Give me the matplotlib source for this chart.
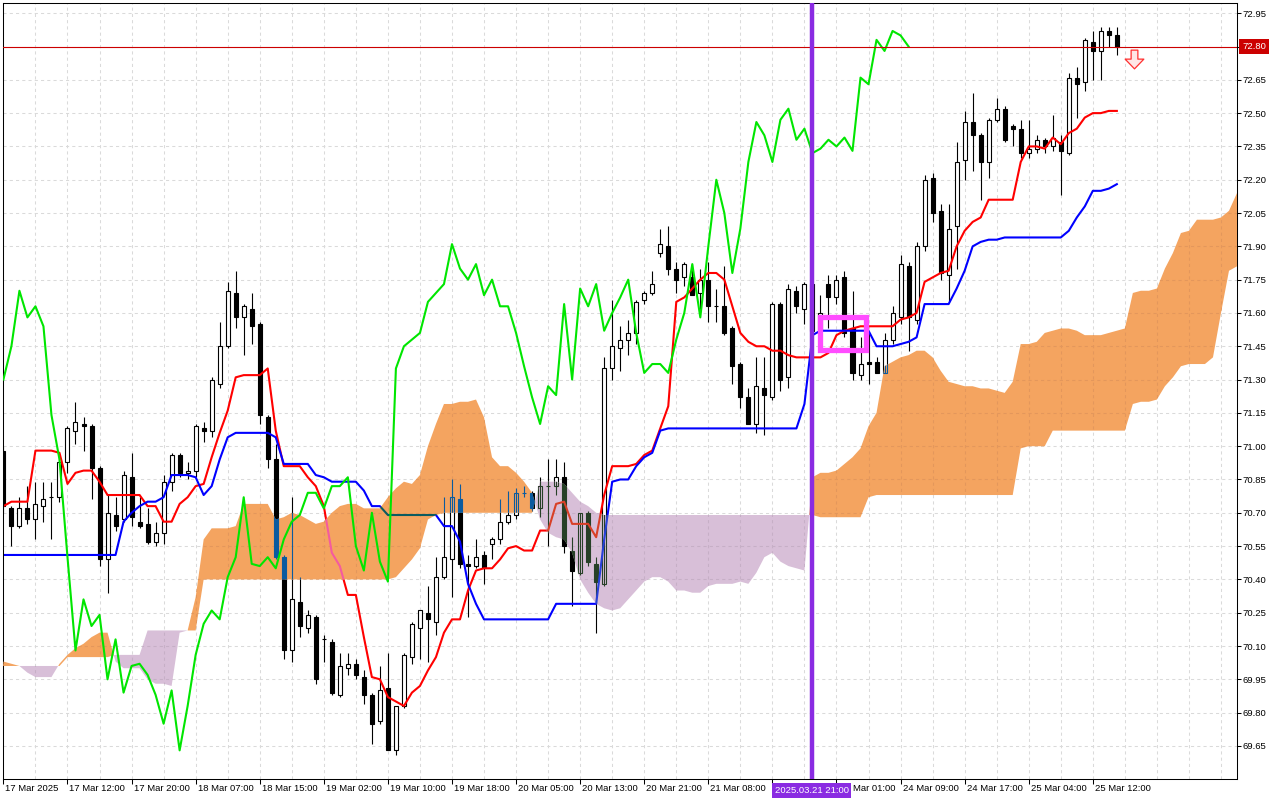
import numpy as np
import matplotlib
matplotlib.use("Agg")
import matplotlib.pyplot as plt
from matplotlib.path import Path
from matplotlib.patches import Rectangle
import matplotlib.transforms as mtransforms

plt.rcParams['font.family'] = ['Liberation Sans', 'DejaVu Sans']

# ---------------- data (hourly candles, bar index 0..139) ----------------
opens = [70.98, 70.72, 70.64, 70.72, 70.67, 70.73, 70.77, 70.77, 70.93, 71.07,
         71.10, 71.09, 70.90, 70.49, 70.69, 70.67, 70.86, 70.66, 70.65, 70.57,
         70.61, 70.84, 70.96, 70.88, 70.89, 71.08, 71.07, 71.28, 71.45, 71.69,
         71.58, 71.62, 71.55, 71.13, 70.94, 70.50, 70.08, 70.30, 70.18, 70.23,
         70.13, 70.12, 69.88, 70.00, 70.02, 69.96, 69.88, 69.76, 69.91, 69.63,
         69.83, 70.05, 70.18, 70.25, 70.21, 70.41, 70.49, 70.76, 70.47, 70.46,
         70.51, 70.56, 70.58, 70.66, 70.69, 70.79, 70.79, 70.72, 70.82, 70.82,
         70.86, 70.53, 70.43, 70.70, 70.47, 70.38, 71.35, 71.44, 71.48, 71.51,
         71.66, 71.69, 71.87, 71.90, 71.80, 71.76, 71.76, 71.69, 71.75, 71.63,
         71.63, 71.53, 71.37, 71.22, 71.10, 71.26, 71.22, 71.64, 71.31, 71.70,
         71.62, 71.73, 71.52, 71.73, 71.67, 71.76, 71.53, 71.32, 71.38, 71.38,
         71.33, 71.48, 71.58, 71.81, 71.57, 71.90, 72.21, 72.06, 71.77, 71.99,
         72.29, 72.46, 72.40, 72.28, 72.47, 72.52, 72.44, 72.43, 72.32, 72.34,
         72.38, 72.35, 72.37, 72.32, 72.66, 72.64, 72.82, 72.78, 72.87, 72.85]
highs = [71.00, 70.73, 70.77, 70.82, 70.84, 70.84, 70.84, 70.95, 71.09, 71.20,
         71.13, 71.10, 70.91, 70.78, 70.77, 70.89, 70.97, 70.77, 70.72, 70.66,
         70.87, 70.97, 70.97, 70.93, 71.10, 71.11, 71.31, 71.56, 71.74, 71.79,
         71.64, 71.69, 71.56, 71.14, 71.01, 70.51, 70.77, 70.41, 70.26, 70.24,
         70.15, 70.13, 70.07, 70.07, 70.04, 69.99, 69.89, 70.01, 70.07, 69.83,
         70.07, 70.21, 70.26, 70.37, 70.50, 70.77, 70.85, 70.83, 70.51, 70.58,
         70.53, 70.59, 70.76, 70.80, 70.81, 70.82, 70.80, 70.86, 70.94, 70.94,
         70.93, 70.59, 70.70, 70.71, 70.50, 71.40, 71.66, 71.54, 71.57, 71.66,
         71.70, 71.79, 71.98, 71.99, 71.83, 71.83, 71.82, 71.80, 71.83, 71.71,
         71.81, 71.54, 71.38, 71.26, 71.40, 71.40, 71.65, 71.65, 71.73, 71.72,
         71.74, 71.75, 71.68, 71.77, 71.77, 71.79, 71.70, 71.49, 71.51, 71.40,
         71.51, 71.63, 71.86, 71.83, 71.92, 72.22, 72.23, 72.09, 72.09, 72.37,
         72.51, 72.59, 72.41, 72.48, 72.57, 72.53, 72.45, 72.47, 72.47, 72.40,
         72.39, 72.49, 72.40, 72.68, 72.71, 72.84, 72.87, 72.89, 72.89, 72.89]
lows = [70.70, 70.55, 70.63, 70.65, 70.58, 70.66, 70.58, 70.75, 70.88, 71.01,
        70.98, 70.76, 70.46, 70.34, 70.62, 70.66, 70.64, 70.63, 70.56, 70.55,
        70.56, 70.80, 70.86, 70.85, 70.86, 71.02, 71.04, 71.26, 71.44, 71.53,
        71.41, 71.46, 71.10, 70.90, 70.49, 70.04, 70.03, 70.14, 70.16, 69.93,
        70.03, 69.88, 69.87, 69.97, 69.95, 69.84, 69.66, 69.75, 69.63, 69.61,
        69.82, 70.02, 70.04, 70.03, 70.15, 70.40, 70.32, 70.45, 70.23, 70.45,
        70.38, 70.49, 70.56, 70.65, 70.67, 70.77, 70.71, 70.68, 70.55, 70.78,
        70.52, 70.28, 70.42, 70.46, 70.16, 70.37, 71.30, 71.34, 71.41, 71.46,
        71.64, 71.68, 71.85, 71.77, 71.69, 71.72, 71.68, 71.60, 71.56, 71.56,
        71.50, 71.28, 71.17, 71.10, 71.06, 71.05, 71.21, 71.25, 71.26, 71.60,
        71.55, 71.50, 71.50, 71.53, 71.64, 71.49, 71.30, 71.30, 71.28, 71.33,
        71.33, 71.46, 71.55, 71.43, 71.55, 71.88, 72.01, 71.75, 71.65, 71.80,
        72.20, 72.24, 72.11, 72.21, 72.46, 72.37, 72.35, 72.30, 72.30, 72.32,
        72.32, 72.33, 72.13, 72.31, 72.48, 72.60, 72.65, 72.65, 72.80, 72.76]
closes = [70.73, 70.64, 70.72, 70.67, 70.74, 70.76, 70.77, 70.93, 71.08, 71.11,
          71.09, 70.90, 70.49, 70.70, 70.64, 70.87, 70.68, 70.64, 70.57, 70.61,
          70.84, 70.96, 70.88, 70.89, 71.09, 71.07, 71.30, 71.45, 71.70, 71.58,
          71.63, 71.54, 71.14, 70.94, 70.50, 70.08, 70.31, 70.19, 70.24, 69.95,
          70.13, 69.89, 70.01, 70.02, 69.97, 69.88, 69.75, 69.90, 69.63, 69.83,
          70.06, 70.20, 70.26, 70.22, 70.41, 70.50, 70.77, 70.47, 70.46, 70.50,
          70.45, 70.58, 70.66, 70.69, 70.79, 70.79, 70.72, 70.82, 70.82, 70.86,
          70.55, 70.44, 70.70, 70.48, 70.39, 71.35, 71.45, 71.48, 71.51, 71.65,
          71.69, 71.73, 71.91, 71.80, 71.75, 71.82, 71.68, 71.75, 71.63, 71.63,
          71.51, 71.36, 71.22, 71.10, 71.27, 71.23, 71.64, 71.30, 71.71, 71.63,
          71.73, 71.52, 71.60, 71.67, 71.75, 71.51, 71.33, 71.37, 71.37, 71.33,
          71.48, 71.60, 71.82, 71.58, 71.90, 72.20, 72.05, 71.78, 71.98, 72.28,
          72.46, 72.40, 72.28, 72.47, 72.52, 72.38, 72.43, 72.32, 72.34, 72.38,
          72.35, 72.39, 72.33, 72.66, 72.63, 72.83, 72.78, 72.87, 72.85, 72.80]

# Ichimoku lines
tenkan = [70.73, 70.75, 70.75, 70.75, 70.98, 70.98, 70.98, 70.97, 70.83, 70.88,
          70.89, 70.89, 70.84, 70.78, 70.78, 70.78, 70.78, 70.78, 70.73, 70.73,
          70.66, 70.66, 70.74, 70.77, 70.82, 70.83, 70.95, 71.06, 71.16, 71.31,
          71.32, 71.32, 71.32, 71.35, 71.07, 70.91, 70.91, 70.91, 70.86, 70.82,
          70.73, 70.52, 70.46, 70.33, 70.33, 70.14, 69.96, 69.95, 69.87, 69.85,
          69.83, 69.89, 69.92, 69.99, 70.05, 70.16, 70.22, 70.22, 70.35, 70.44,
          70.45, 70.45, 70.49, 70.54, 70.55, 70.53, 70.53, 70.62, 70.62, 70.74,
          70.75, 70.65, 70.65, 70.65, 70.59, 70.78, 70.91, 70.91, 70.91, 70.92,
          70.96, 70.98, 71.08, 71.18, 71.65, 71.67, 71.71, 71.75, 71.78, 71.78,
          71.75, 71.63, 71.51, 71.47, 71.45, 71.45, 71.43, 71.43, 71.41, 71.40,
          71.40, 71.40, 71.40, 71.42, 71.50, 71.52, 71.53, 71.54, 71.54, 71.54,
          71.54, 71.54, 71.57, 71.58, 71.60, 71.74, 71.76, 71.78, 71.79, 71.90,
          71.97, 72.01, 72.03, 72.11, 72.11, 72.11, 72.11, 72.28, 72.35, 72.35,
          72.34, 72.39, 72.36, 72.41, 72.43, 72.48, 72.50, 72.50, 72.51, 72.51]
kijun = [70.51, 70.51, 70.51, 70.51, 70.51, 70.51, 70.51, 70.51, 70.51, 70.51,
         70.51, 70.51, 70.51, 70.51, 70.51, 70.66, 70.70, 70.73, 70.75, 70.75,
         70.77, 70.87, 70.87, 70.87, 70.86, 70.78, 70.82, 70.94, 71.04, 71.06,
         71.06, 71.06, 71.06, 71.06, 71.04, 70.92, 70.92, 70.92, 70.92, 70.87,
         70.86, 70.84, 70.84, 70.84, 70.84, 70.80, 70.73, 70.73, 70.69, 70.69,
         70.69, 70.69, 70.69, 70.69, 70.69, 70.64, 70.64, 70.57, 70.38, 70.29,
         70.22, 70.22, 70.22, 70.22, 70.22, 70.22, 70.22, 70.22, 70.22, 70.29,
         70.29, 70.29, 70.29, 70.29, 70.29, 70.58, 70.84, 70.85, 70.85, 70.91,
         70.95, 70.97, 71.07, 71.08, 71.08, 71.08, 71.08, 71.08, 71.08, 71.08,
         71.08, 71.08, 71.08, 71.08, 71.08, 71.08, 71.08, 71.08, 71.08, 71.08,
         71.19, 71.50, 71.52, 71.52, 71.52, 71.52, 71.52, 71.52, 71.52, 71.45,
         71.45, 71.45, 71.46, 71.47, 71.49, 71.64, 71.64, 71.64, 71.64, 71.71,
         71.79, 71.90, 71.92, 71.93, 71.93, 71.94, 71.94, 71.94, 71.94, 71.94,
         71.94, 71.94, 71.94, 71.97, 72.03, 72.08, 72.15, 72.15, 72.16, 72.18]
# Senkou spans (already shifted 26 bars forward), bar index 0..154
span_a = [70.03, 70.02, 70.01, 69.98, 69.96, 69.96, 69.96, 70.02, 70.06, 70.09,
          70.11, 70.14, 70.16, 70.16, 70.03, 70.00, 70.00, 70.00, 69.95, 69.93,
          69.93, 69.92, 70.16, 70.17, 70.32, 70.58, 70.63, 70.63, 70.63, 70.64,
          70.74, 70.74, 70.74, 70.74, 70.67, 70.68, 70.70, 70.69, 70.67, 70.65,
          70.66, 70.70, 70.73, 70.74, 70.74, 70.72, 70.72, 70.72, 70.77, 70.81,
          70.84, 70.83, 70.87, 71.00, 71.10, 71.19, 71.19, 71.20, 71.20, 71.21,
          71.13, 70.95, 70.91, 70.91, 70.88, 70.84, 70.79, 70.67, 70.61, 70.59,
          70.58, 70.52, 70.40, 70.34, 70.29, 70.27, 70.26, 70.27, 70.31, 70.35,
          70.39, 70.41, 70.41, 70.39, 70.35, 70.35, 70.34, 70.34, 70.37, 70.38,
          70.38, 70.38, 70.39, 70.38, 70.43, 70.50, 70.52, 70.48, 70.46, 70.45,
          70.44, 70.86, 70.88, 70.88, 70.89, 70.92, 70.95, 70.99, 71.09, 71.15,
          71.36, 71.38, 71.40, 71.41, 71.43, 71.43, 71.40, 71.34, 71.29, 71.28,
          71.27, 71.27, 71.26, 71.26, 71.25, 71.24, 71.29, 71.46, 71.46, 71.47,
          71.51, 71.52, 71.53, 71.53, 71.52, 71.50, 71.50, 71.50, 71.51, 71.52,
          71.53, 71.69, 71.70, 71.70, 71.71, 71.80, 71.87, 71.96, 71.97, 72.02,
          72.02, 72.02, 72.03, 72.06, 72.14]
span_b = [70.01, 70.01, 70.01, 70.01, 70.01, 70.01, 70.01, 70.01, 70.05, 70.05,
          70.05, 70.05, 70.05, 70.05, 70.06, 70.06, 70.06, 70.06, 70.17, 70.17,
          70.17, 70.17, 70.17, 70.17, 70.17, 70.40, 70.40, 70.40, 70.40, 70.40,
          70.40, 70.40, 70.40, 70.40, 70.40, 70.40, 70.40, 70.40, 70.40, 70.40,
          70.40, 70.40, 70.40, 70.40, 70.40, 70.40, 70.40, 70.40, 70.40, 70.41,
          70.45, 70.49, 70.54, 70.67, 70.69, 70.70, 70.70, 70.70, 70.70, 70.70,
          70.70, 70.70, 70.70, 70.70, 70.70, 70.70, 70.70, 70.84, 70.84, 70.84,
          70.83, 70.79, 70.75, 70.73, 70.70, 70.69, 70.69, 70.69, 70.69, 70.69,
          70.69, 70.69, 70.69, 70.69, 70.69, 70.69, 70.69, 70.69, 70.69, 70.69,
          70.69, 70.69, 70.69, 70.69, 70.69, 70.69, 70.69, 70.69, 70.69, 70.69,
          70.69, 70.69, 70.68, 70.68, 70.68, 70.68, 70.68, 70.68, 70.77, 70.78,
          70.78, 70.78, 70.78, 70.78, 70.78, 70.78, 70.78, 70.78, 70.78, 70.78,
          70.78, 70.78, 70.78, 70.78, 70.78, 70.78, 70.78, 70.99, 71.00, 71.00,
          71.00, 71.07, 71.07, 71.07, 71.07, 71.07, 71.07, 71.07, 71.07, 71.07,
          71.07, 71.19, 71.20, 71.20, 71.21, 71.27, 71.31, 71.36, 71.37, 71.37,
          71.37, 71.40, 71.60, 71.79, 71.81]
chikou_shift = 26

tick_labels = ["17 Mar 2025", "17 Mar 12:00", "17 Mar 20:00", "18 Mar 07:00",
               "18 Mar 15:00", "19 Mar 02:00", "19 Mar 10:00", "19 Mar 18:00",
               "20 Mar 05:00", "20 Mar 13:00", "20 Mar 21:00", "21 Mar 08:00",
               "21 Mar 16:00", "24 Mar 01:00", "24 Mar 09:00", "24 Mar 17:00",
               "25 Mar 04:00", "25 Mar 12:00"]
bars_per_tick = 8
price_ticks = [69.65, 69.80, 69.95, 70.10, 70.25, 70.40, 70.55, 70.70, 70.85,
               71.00, 71.15, 71.30, 71.45, 71.60, 71.75, 71.90, 72.05, 72.20,
               72.35, 72.50, 72.65, 72.80, 72.95]
bid_price = 72.80
cursor_bar = 101
cursor_label = "2025.03.21 21:00"

# ---------------- figure ----------------
W, H = 1280, 800
fig = plt.figure(figsize=(W / 100, H / 100), dpi=100, facecolor='white')
ax = fig.add_axes([3 / W, 21 / H, 1234 / W, 776 / H])
XMIN, XMAX = -0.05, 154.0
YMIN, YMAX = 69.501, 72.996

O = np.array(opens); Hh = np.array(highs); L = np.array(lows); C = np.array(closes)
x = np.arange(len(C))
TK = np.array(tenkan); KJ = np.array(kijun)
A = np.array(span_a); B = np.array(span_b); xa = np.arange(len(A))

# grid
gx = np.arange(0, 155, 4)
grid_kw = dict(linewidths=0.75, linestyles=(0, (3, 3)))
ax.vlines(gx, YMIN, YMAX, colors='#dadada', zorder=0.5, **grid_kw)
ax.hlines(price_ticks, XMIN, XMAX, colors='#dadada', zorder=0.5, **grid_kw)


def draw_price(z, ink, fill_up, red, blue, clip=None):
    arts = [ax.vlines(x, L, Hh, colors=ink, linewidths=0.8, zorder=z)]
    up = C >= O
    bot = np.minimum(O, C)
    hgt = np.abs(C - O)
    b1 = ax.bar(x[up], hgt[up], bottom=bot[up], width=0.5, facecolor=fill_up,
                edgecolor=ink, linewidth=0.8, zorder=z + 0.01)
    b2 = ax.bar(x[~up], hgt[~up], bottom=bot[~up], width=0.5, facecolor=ink,
                edgecolor=ink, linewidth=0.8, zorder=z + 0.01)
    arts += list(b1.patches) + list(b2.patches)
    arts += ax.plot(x, TK, color=red, lw=1.5, zorder=z + 0.02)
    arts += ax.plot(x, KJ, color=blue, lw=1.5, zorder=z + 0.02)
    if clip is not None:
        for a in arts:
            a.set_clip_path(clip, ax.transData)
    return arts


# base layer
draw_price(2, 'black', 'white', '#ff0000', '#0000ff')

# cloud
org = ax.fill_between(xa, A, B, where=A >= B, interpolate=True, facecolor='#f4a460',
                      edgecolor='none', linewidth=0, zorder=3)
ths = ax.fill_between(xa, A, B, where=A < B, interpolate=True, facecolor='#d8bfd8',
                      edgecolor='none', linewidth=0, zorder=3)
org_path = Path.make_compound_path(*org.get_paths())
ths_path = Path.make_compound_path(*ths.get_paths())

# grid + price inside the cloud (inverted look)
for pth, gcol in ((org_path, '#e3975c'), (ths_path, '#c6afc6')):
    g1 = ax.vlines(gx, YMIN, YMAX, colors=gcol, zorder=3.2, **grid_kw)
    g2 = ax.hlines(price_ticks, XMIN, XMAX, colors=gcol, zorder=3.2, **grid_kw)
    g1.set_clip_path(pth, ax.transData)
    g2.set_clip_path(pth, ax.transData)
draw_price(3.5, '#0b5b9f', 'none', '#f45b9f', '#0b5b60', clip=org_path)
draw_price(3.5, '#274027', 'none', '#d84027', '#2740d8', clip=ths_path)

# chikou span
n = len(C) - chikou_shift
ax.plot(x[:n], C[chikou_shift:], color='#00e600', lw=1.5, zorder=5)

# bid line
ax.axhline(bid_price, color='#cc0000', lw=0.8, zorder=5.5)

# cursor vertical line
ax.axvline(cursor_bar, color='#8a2be2', lw=3.2, zorder=6)

# highlight rectangle
ax.add_patch(Rectangle((101.96, 71.431), 5.78, 0.153, fill=False,
                       edgecolor='#ff4cff', linewidth=3.8, joinstyle='miter', zorder=7))

# sell arrow
arrow = Path([(-0.18, 0.5), (0.18, 0.5), (0.18, 0.02), (0.5, 0.02), (0.0, -0.5),
              (-0.5, 0.02), (-0.18, 0.02), (-0.18, 0.5)],
             [Path.MOVETO] + [Path.LINETO] * 6 + [Path.CLOSEPOLY])
ax.plot([141.2], [72.742], marker=arrow, markersize=13.5, markerfacecolor='#ffe6e6',
        markeredgecolor='#ff3030', markeredgewidth=0.9, linestyle='none', zorder=8)

# axes limits / ticks
ax.set_xlim(XMIN, XMAX)
ax.set_ylim(YMIN, YMAX)
ax.yaxis.tick_right()
ax.set_yticks(price_ticks)
ax.set_yticklabels([f"{v:.2f}" for v in price_ticks])
ax.tick_params(axis='y', direction='out', length=2.9, width=0.75, pad=1,
               labelsize=6.8, colors='black', right=True, left=False)

# the cursor date box hides the label of the tick at bar 96 and the day of
# the tick at bar 104: show only what remains visible
cursor_tick_hidden = 12
cursor_tick_partial = 13
shown = list(tick_labels)
shown[cursor_tick_hidden] = ""
shown[cursor_tick_partial] = tick_labels[cursor_tick_partial].split(" ", 1)[1]
ax.set_xticks(np.arange(len(tick_labels)) * bars_per_tick)
ax.set_xticklabels(shown, ha='left')
ax.tick_params(axis='x', direction='out', length=3.6, width=0.75, pad=0.3,
               labelsize=6.8, colors='black')
offset = mtransforms.ScaledTranslation(2 / 100, 0, fig.dpi_scale_trans)
offset_partial = mtransforms.ScaledTranslation(17 / 100, 0, fig.dpi_scale_trans)
for i, lbl in enumerate(ax.get_xticklabels()):
    off = offset_partial if i == cursor_tick_partial else offset
    lbl.set_transform(lbl.get_transform() + off)
for s in ax.spines.values():
    s.set_linewidth(0.75)
    s.set_color('black')

# cursor date label
ax.annotate(cursor_label, xy=(cursor_bar, 0), xycoords=('data', 'axes fraction'),
            xytext=(-0.5, -5.0), textcoords='offset points', ha='center', va='top',
            fontsize=6.8, color='white', zorder=20, annotation_clip=False,
            bbox=dict(boxstyle='square,pad=0.28', fc='#8a2be2', ec='none'))
# bid price label
ax.annotate(f"{bid_price:.2f}", xy=(1, bid_price), xycoords=('axes fraction', 'data'),
            xytext=(3.6, 0), textcoords='offset points', ha='left', va='center',
            fontsize=6.8, color='white', zorder=20, annotation_clip=False,
            bbox=dict(boxstyle='square,pad=0.35', fc='#cc0000', ec='none'))

fig.savefig('out.png', dpi=100, facecolor='white')
